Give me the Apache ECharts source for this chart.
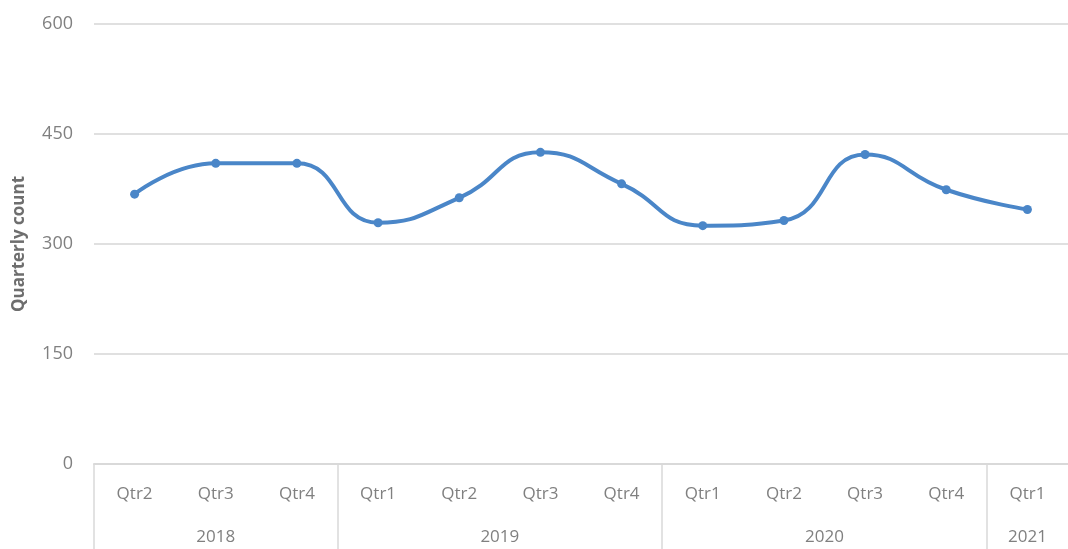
<!DOCTYPE html>
<html>
<head>
<meta charset="utf-8">
<script src="https://cdn.jsdelivr.net/npm/echarts@6/dist/echarts.min.js"></script>
<style>
  html, body { margin: 0; padding: 0; background: #fff; }
  #chart { width: 1068px; height: 549px; }
</style>
</head>
<body>
<div id="chart"></div>
<script>
// quarter labels, one per point
var quarters = ['Qtr2', 'Qtr3', 'Qtr4', 'Qtr1', 'Qtr2', 'Qtr3', 'Qtr4', 'Qtr1', 'Qtr2', 'Qtr3', 'Qtr4', 'Qtr1'];
// year groups: label and how many quarters each covers
var years = ['2018', '2019', '2020', '2021'];
var yearSpans = [3, 4, 4, 1];
// quarterly count
var counts = [368, 410, 410, 329, 363, 425, 382, 325, 332, 422, 374, 347];
var yTicks = [0, 150, 300, 450, 600];

// group boundaries and centres on the category index scale
var bounds = [-0.5], centres = [], pos = -0.5;
for (var i = 0; i < yearSpans.length; i++) {
  centres.push(pos + yearSpans[i] / 2);
  pos += yearSpans[i];
  bounds.push(pos);
}

var myChart = echarts.init(document.getElementById('chart'));
var labelColor = '#808080';
var font = '"Open Sans", Lato, sans-serif';

var option = {
  backgroundColor: '#fff',
  animation: false,
  grid: { left: 94, right: -11, top: 24, bottom: 85 },
  xAxis: [
    {
      type: 'category',
      data: quarters,
      boundaryGap: true,
      axisLine: { show: true, lineStyle: { color: '#d9d9d9', width: 2 } },
      axisTick: { show: false },
      axisLabel: { color: labelColor, fontSize: 17, fontFamily: font, margin: 22 },
      splitLine: { show: false }
    },
    {
      type: 'value',
      position: 'bottom',
      min: -0.5,
      max: 11.5,
      axisLine: { show: false },
      axisTick: {
        show: true,
        customValues: bounds.slice(0, bounds.length - 1),
        length: 90,
        lineStyle: { color: '#d9d9d9', width: 1.5 }
      },
      axisLabel: {
        color: labelColor,
        fontSize: 17,
        fontFamily: font,
        margin: 65,
        customValues: centres,
        formatter: function (v) {
          var k = centres.indexOf(v);
          return k >= 0 ? years[k] : '';
        }
      },
      splitLine: { show: false }
    }
  ],
  yAxis: {
    type: 'value',
    min: yTicks[0],
    max: yTicks[yTicks.length - 1],
    interval: 150,
    name: 'Quarterly count',
    nameLocation: 'middle',
    nameGap: 66,
    nameTextStyle: { color: '#6e6e6e', fontSize: 17, fontWeight: 'bold', fontFamily: font },
    axisLine: { show: false },
    axisTick: { show: false },
    axisLabel: { color: labelColor, fontSize: 18, fontFamily: font, margin: 21 },
    splitLine: { lineStyle: { color: '#e0e0e0', width: 2 } }
  },
  series: [
    {
      type: 'line',
      xAxisIndex: 0,
      data: counts,
      smooth: 0.5,
      symbol: 'circle',
      symbolSize: 9,
      lineStyle: { color: '#4a86c8', width: 4 },
      itemStyle: { color: '#4a86c8' }
    }
  ]
};
myChart.setOption(option);
</script>
</body>
</html>
